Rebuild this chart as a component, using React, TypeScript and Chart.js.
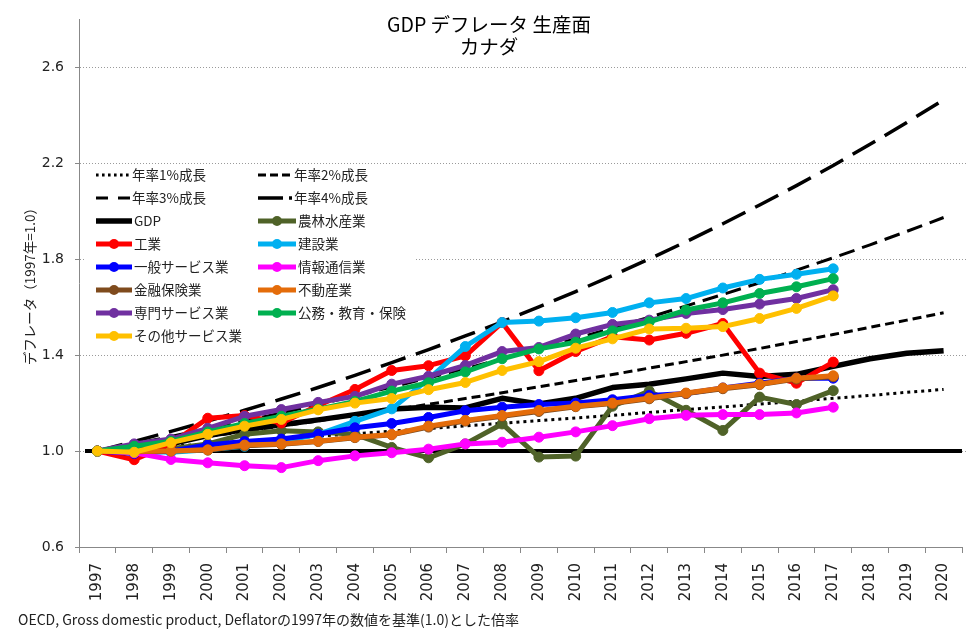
import React, { useEffect, useRef } from "react";
import { Chart, registerables } from "chart.js";

Chart.register(...registerables);

// ---------- data ----------
const YEARS = [
  "1997", "1998", "1999", "2000", "2001", "2002", "2003", "2004", "2005", "2006", "2007", "2008",
  "2009", "2010", "2011", "2012", "2013", "2014", "2015", "2016", "2017", "2018", "2019", "2020",
];
const Y_TICKS = [0.6, 1.0, 1.4, 1.8, 2.2, 2.6];

const GROWTH_1 = [1.000, 1.010, 1.020, 1.030, 1.041, 1.051, 1.062, 1.072, 1.083, 1.094, 1.105, 1.116, 1.127, 1.138, 1.149, 1.161, 1.173, 1.184, 1.196, 1.208, 1.220, 1.232, 1.245, 1.257];
const GROWTH_2 = [1.000, 1.020, 1.040, 1.061, 1.082, 1.104, 1.126, 1.149, 1.172, 1.195, 1.219, 1.243, 1.268, 1.294, 1.319, 1.346, 1.373, 1.400, 1.428, 1.457, 1.486, 1.516, 1.546, 1.577];
const GROWTH_3 = [1.000, 1.030, 1.061, 1.093, 1.126, 1.159, 1.194, 1.230, 1.267, 1.305, 1.344, 1.384, 1.426, 1.469, 1.513, 1.558, 1.605, 1.653, 1.702, 1.754, 1.806, 1.860, 1.916, 1.974];
const GROWTH_4 = [1.000, 1.040, 1.082, 1.125, 1.170, 1.217, 1.265, 1.316, 1.369, 1.423, 1.480, 1.539, 1.601, 1.665, 1.732, 1.801, 1.873, 1.948, 2.026, 2.107, 2.191, 2.279, 2.370, 2.465];

const GDP = [1.0, 1.01, 1.03, 1.065, 1.09, 1.11, 1.13, 1.152, 1.175, 1.183, 1.18, 1.22, 1.196, 1.22, 1.265, 1.279, 1.301, 1.325, 1.311, 1.32, 1.353, 1.385, 1.408, 1.418];
const AGRI = [1.0, 1.0, 1.01, 1.03, 1.07, 1.085, 1.08, 1.07, 1.015, 0.972, 1.03, 1.113, 0.975, 0.979, 1.187, 1.25, 1.17, 1.086, 1.225, 1.194, 1.252, null, null, null];
const INDUSTRY = [1.0, 0.964, 1.03, 1.137, 1.148, 1.117, 1.19, 1.257, 1.336, 1.356, 1.397, 1.536, 1.335, 1.415, 1.477, 1.463, 1.491, 1.532, 1.325, 1.283, 1.371, null, null, null];
const CONSTRUCTION = [1.0, 1.0, 0.995, 1.005, 1.02, 1.04, 1.07, 1.124, 1.176, 1.30, 1.436, 1.536, 1.542, 1.556, 1.578, 1.618, 1.636, 1.68, 1.716, 1.737, 1.76, null, null, null];
const GENERAL_SERVICE = [1.0, 0.99, 1.0, 1.025, 1.04, 1.05, 1.07, 1.097, 1.115, 1.14, 1.168, 1.183, 1.194, 1.20, 1.214, 1.232, 1.24, 1.263, 1.283, 1.304, 1.304, null, null, null];
const ICT = [1.0, 0.993, 0.965, 0.951, 0.939, 0.931, 0.96, 0.98, 0.993, 1.008, 1.03, 1.037, 1.058, 1.08, 1.106, 1.135, 1.149, 1.152, 1.152, 1.159, 1.183, null, null, null];
const FINANCE = [1.0, 0.997, 1.0, 1.004, 1.022, 1.028, 1.04, 1.056, 1.068, 1.10, 1.125, 1.145, 1.165, 1.185, 1.198, 1.218, 1.24, 1.26, 1.277, 1.30, 1.31, null, null, null];
const REAL_ESTATE = [1.0, 0.998, 1.0, 1.005, 1.025, 1.03, 1.041, 1.058, 1.069, 1.104, 1.128, 1.148, 1.169, 1.187, 1.20, 1.221, 1.242, 1.263, 1.279, 1.304, 1.314, null, null, null];
const PROFESSIONAL = [1.0, 1.03, 1.05, 1.095, 1.145, 1.173, 1.203, 1.228, 1.279, 1.312, 1.357, 1.415, 1.432, 1.488, 1.528, 1.546, 1.574, 1.59, 1.613, 1.636, 1.673, null, null, null];
const PUBLIC = [1.0, 1.02, 1.041, 1.08, 1.115, 1.145, 1.175, 1.207, 1.25, 1.285, 1.33, 1.385, 1.426, 1.454, 1.501, 1.539, 1.588, 1.618, 1.657, 1.685, 1.719, null, null, null];
const OTHER_SERVICE = [1.0, 0.995, 1.035, 1.07, 1.104, 1.132, 1.172, 1.2, 1.219, 1.256, 1.286, 1.336, 1.373, 1.429, 1.468, 1.509, 1.512, 1.519, 1.553, 1.595, 1.647, null, null, null];

const LABELS = [
  "年率1%成長", "年率2%成長", "年率3%成長", "年率4%成長",
  "GDP", "農林水産業", "工業", "建設業", "一般サービス業", "情報通信業",
  "金融保険業", "不動産業", "専門サービス業", "公務・教育・保険", "その他サービス業",
];
const VALUES = [
  GROWTH_1, GROWTH_2, GROWTH_3, GROWTH_4,
  GDP, AGRI, INDUSTRY, CONSTRUCTION, GENERAL_SERVICE, ICT,
  FINANCE, REAL_ESTATE, PROFESSIONAL, PUBLIC, OTHER_SERVICE,
];

// ---------- styles ----------
const JP = '"Noto Sans CJK JP", "Noto Sans", sans-serif';
const NUM = '"DejaVu Sans", sans-serif';

type Style = { color: string; width: number; dash: number[]; legendDash: number[]; marker: boolean };
const STYLES: Style[] = [
  { color: "#000", width: 3, dash: [3, 4], legendDash: [2.6, 3.4], marker: false },
  { color: "#000", width: 3, dash: [9, 5], legendDash: [8, 4], marker: false },
  { color: "#000", width: 3, dash: [16, 8], legendDash: [12, 10], marker: false },
  { color: "#000", width: 3.5, dash: [26, 11], legendDash: [25, 6, 3, 100], marker: false },
  { color: "#000", width: 5.5, dash: [], legendDash: [], marker: false },
  { color: "#4f6228", width: 5, dash: [], legendDash: [], marker: true },
  { color: "#ff0000", width: 5, dash: [], legendDash: [], marker: true },
  { color: "#00b0f0", width: 5, dash: [], legendDash: [], marker: true },
  { color: "#0000ff", width: 5, dash: [], legendDash: [], marker: true },
  { color: "#ff00ff", width: 5, dash: [], legendDash: [], marker: true },
  { color: "#7f4b1d", width: 5, dash: [], legendDash: [], marker: true },
  { color: "#e46c0a", width: 5, dash: [], legendDash: [], marker: true },
  { color: "#7030a0", width: 5, dash: [], legendDash: [], marker: true },
  { color: "#00b050", width: 5, dash: [], legendDash: [], marker: true },
  { color: "#ffc000", width: 5, dash: [], legendDash: [], marker: true },
];

// ---------- plugins ----------
const gridPlugin = {
  id: "gridAndBaseline",
  beforeDatasetsDraw(chart: any) {
    const { ctx, chartArea, scales } = chart;
    const y = scales.y;
    ctx.save();
    ctx.strokeStyle = "#9a9a9a";
    ctx.lineWidth = 1;
    ctx.setLineDash([1, 2]);
    Y_TICKS.forEach((v) => {
      const py = Math.round(y.getPixelForValue(v)) + 0.5;
      if (v === Y_TICKS[0]) return;
      ctx.beginPath();
      ctx.moveTo(chartArea.left + 1, py);
      ctx.lineTo(chartArea.right + 5, py);
      ctx.stroke();
    });
    ctx.setLineDash([]);
    ctx.strokeStyle = "#000";
    ctx.lineWidth = 4;
    const by = y.getPixelForValue(1.0);
    ctx.beginPath();
    ctx.moveTo(chartArea.left + 6, by);
    ctx.lineTo(chartArea.right, by);
    ctx.stroke();
    ctx.restore();
  },
};

const textPlugin = {
  id: "texts",
  afterDraw(chart: any) {
    const { ctx, chartArea, width } = chart;
    ctx.save();
    ctx.fillStyle = "#000";
    ctx.textAlign = "center";
    ctx.textBaseline = "middle";
    ctx.font = `19.5px ${JP}`;
    ctx.fillText("GDP デフレータ 生産面", width / 2, 25);
    ctx.fillText("カナダ", width / 2, 47);

    ctx.fillStyle = "#222";
    ctx.font = `13.5px ${JP}`;
    ctx.save();
    ctx.translate(30, (chartArea.top + chartArea.bottom) / 2);
    ctx.rotate(-Math.PI / 2);
    ctx.fillText("デフレータ（1997年=1.0）", 0, 0);
    ctx.restore();

    ctx.textAlign = "left";
    ctx.font = `14px ${JP}`;
    ctx.fillText("OECD, Gross domestic product, Deflatorの1997年の数値を基準(1.0)とした倍率", 18, 620);
    ctx.restore();
  },
};

const legendPlugin = {
  id: "customLegend",
  afterDatasetsDraw(chart: any) {
    const { ctx, chartArea } = chart;
    const x0 = chartArea.left;
    ctx.save();
    ctx.fillStyle = "#fff";
    ctx.fillRect(x0 + 5, 164, 330, 184);
    chart.data.datasets.forEach((ds: any, k: number) => {
      const st = STYLES[k];
      const col = k % 2;
      const row = Math.floor(k / 2);
      const cy = 175 + row * 23;
      const sx = col === 0 ? x0 + 17 : x0 + 179;
      const ex = st.marker || k === 4 ? sx + (col === 0 ? 36 : 38) : sx + 34;
      ctx.strokeStyle = st.color;
      ctx.lineWidth = st.width;
      ctx.setLineDash(st.legendDash);
      ctx.lineCap = "butt";
      ctx.beginPath();
      ctx.moveTo(sx, cy);
      ctx.lineTo(ex, cy);
      ctx.stroke();
      ctx.setLineDash([]);
      if (st.marker) {
        ctx.fillStyle = st.color;
        ctx.beginPath();
        ctx.arc((sx + ex) / 2, cy, 5, 0, Math.PI * 2);
        ctx.fill();
      }
      ctx.fillStyle = "#222";
      ctx.font = `13.5px ${JP}`;
      ctx.textAlign = "left";
      ctx.textBaseline = "middle";
      ctx.fillText(ds.label, ex + 2, cy);
    });
    ctx.restore();
  },
};

export default function App() {
  const canvasRef = useRef<HTMLCanvasElement | null>(null);

  useEffect(() => {
    let chart: Chart | null = null;
    let cancelled = false;
    const make = () => {
      if (cancelled || !canvasRef.current) return;
      const datasets = VALUES.map((vals, i) => {
        const st = STYLES[i];
        return {
          label: LABELS[i],
          data: vals,
          borderColor: st.color,
          backgroundColor: st.color,
          borderWidth: st.width,
          borderDash: st.dash,
          borderCapStyle: "butt" as const,
          borderJoinStyle: "round" as const,
          pointRadius: st.marker ? 5 : 0,
          pointHoverRadius: st.marker ? 5 : 0,
          pointBorderWidth: 1,
          pointBackgroundColor: st.color,
          pointBorderColor: st.color,
          tension: 0,
          fill: false,
          spanGaps: false,
          order: -i,
        };
      });
      chart = new Chart(canvasRef.current, {
        type: "line",
        data: { labels: YEARS, datasets },
        options: {
          animation: false,
          responsive: false,
          devicePixelRatio: 1,
          events: [],
          layout: { padding: { top: 16, right: 16, left: 0, bottom: 0 } },
          plugins: {
            legend: { display: false },
            title: { display: false },
            tooltip: { enabled: false },
          },
          scales: {
            x: {
              type: "category",
              offset: true,
              grid: { offset: true, drawOnChartArea: false, drawTicks: true, tickLength: 6, color: "#888" },
              border: { color: "#888", width: 1 },
              ticks: {
                autoSkip: false,
                minRotation: 90,
                maxRotation: 90,
                padding: 10,
                color: "#222",
                font: { family: NUM, size: 15 },
              },
              afterFit: (s: any) => {
                s.height = 92;
              },
            },
            y: {
              min: 0.6,
              max: 2.8,
              afterBuildTicks: (s: any) => {
                s.ticks = Y_TICKS.map((v) => ({ value: v }));
              },
              grid: { drawOnChartArea: false, drawTicks: true, tickLength: 4, color: "#888" },
              border: { color: "#888", width: 1 },
              ticks: {
                padding: 11,
                color: "#222",
                font: { family: NUM, size: 14 },
                callback: (v: any) => Number(v).toFixed(1),
              },
              afterFit: (s: any) => {
                s.width = 79;
              },
            },
          },
        },
        plugins: [gridPlugin, legendPlugin, textPlugin],
      });
    };
    const fontLoads = [`13px ${JP}`, `19px ${JP}`, `14px ${NUM}`].map((f) =>
      (document as any).fonts ? (document as any).fonts.load(f) : Promise.resolve()
    );
    Promise.all(fontLoads).then(make, make);
    return () => {
      cancelled = true;
      if (chart) chart.destroy();
    };
  }, []);

  return (
    <div style={{ position: "fixed", left: 0, top: 0, width: 978, height: 639, background: "#fff" }}>
      <canvas ref={canvasRef} width={978} height={639} style={{ display: "block", width: 978, height: 639 }} />
    </div>
  );
}
